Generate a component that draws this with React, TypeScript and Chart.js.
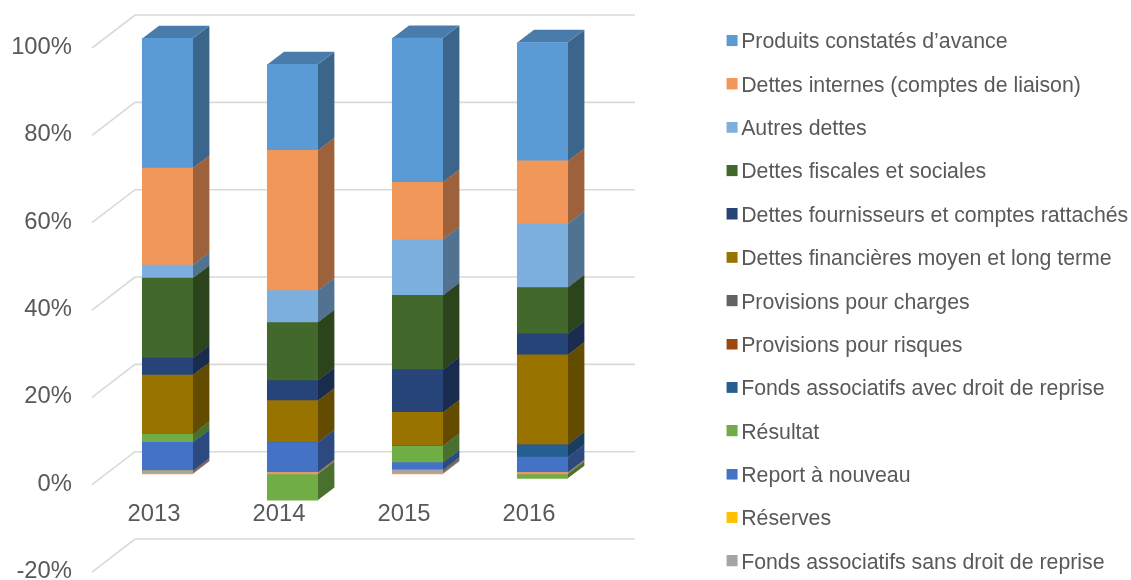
import React, { useEffect, useRef } from "react";
import { Chart, registerables } from "chart.js";

Chart.register(...registerables);

const categories = ["2013", "2014", "2015", "2016"];
const yTicks = [-20, 0, 20, 40, 60, 80, 100];

const unnamedBase = [0.15, 0.3, 0.2, 0.3];
const fondsSansDroit = [0.6, 0.1, 0.7, 0.1];
const reserves = [0, 0, 0, 0];
const reportANouveau = [6.5, 6.8, 1.7, 3.5];
const resultat = [1.9, -6, 3.8, -1];
const fondsAvecDroit = [0, 0, 0, 2.8];
const provisionsRisques = [0, 0, 0.1, 0];
const provisionsCharges = [0, 0, 0, 0];
const dettesFinancieres = [13.5, 9.6, 7.6, 20.6];
const dettesFournisseurs = [3.9, 4.6, 9.8, 4.8];
const dettesFiscales = [18.3, 13.3, 17, 10.6];
const autresDettes = [3, 7.3, 12.8, 14.6];
const dettesInternes = [22.2, 32.1, 13.1, 14.4];
const produitsConstates = [29.7, 19.7, 33, 27.1];

const seriesList: [string, number[], string][] = [
  ["", unnamedBase, "#F1975A"],
  ["Fonds associatifs sans droit de reprise", fondsSansDroit, "#A5A5A5"],
  ["Réserves", reserves, "#FFC000"],
  ["Report à nouveau", reportANouveau, "#4472C4"],
  ["Résultat", resultat, "#70AD47"],
  ["Fonds associatifs avec droit de reprise", fondsAvecDroit, "#255E91"],
  ["Provisions pour risques", provisionsRisques, "#9E480E"],
  ["Provisions pour charges", provisionsCharges, "#636363"],
  ["Dettes financières moyen et long terme", dettesFinancieres, "#997300"],
  ["Dettes fournisseurs et comptes rattachés", dettesFournisseurs, "#264478"],
  ["Dettes fiscales et sociales", dettesFiscales, "#43682B"],
  ["Autres dettes", autresDettes, "#7CAFDD"],
  ["Dettes internes (comptes de liaison)", dettesInternes, "#F1975A"],
  ["Produits constatés d’avance", produitsConstates, "#5B9BD5"],
];

const WIDTH = 1131;
const HEIGHT = 580;
const PX_PER_UNIT = 4.367;
const AXIS_ZERO = 484;
const BAR_ZERO = 474;
const PLOT_LEFT = 105;
const PLOT_RIGHT = 605;
const LEGEND_FONT = 21.3;
const LEGEND_PADDING = 43.35 - LEGEND_FONT;
const LEGEND_LEFT = 730.5 - LEGEND_PADDING;
const LEGEND_TOP = 9.85;
const TICK_FONT = 23.8;
const FONT_FAMILY = "'Liberation Sans', Arial, sans-serif";

function shade(hex: string, k: number) {
  const n = parseInt(hex.slice(1), 16);
  const c = (s: number) => Math.round(((n >> s) & 255) * k);
  return `rgb(${c(16)},${c(8)},${c(0)})`;
}

function swatch(color: string) {
  const c = document.createElement("canvas");
  c.width = 16;
  c.height = 15;
  const g = c.getContext("2d")!;
  g.fillStyle = color;
  g.fillRect(4, 0, 11, 11);
  return c;
}

const noPadding = (s: any) => {
  s.paddingTop = 0;
  s.paddingBottom = 0;
  s.paddingLeft = 0;
  s.paddingRight = 0;
};

const depthPlugin = {
  id: "depth",
  beforeLayout(chart: any) {
    const legend = chart.legend;
    if (legend && !legend.__wrapped) {
      legend.__wrapped = true;
      const fit = legend.fit;
      legend.fit = function () {
        this.maxHeight = 800;
        fit.call(this);
        this.width = WIDTH - PLOT_RIGHT;
        this.height = HEIGHT;
      };
    }
  },
  afterLayout(chart: any) {
    const legend = chart.legend;
    legend.left = LEGEND_LEFT;
    legend.top = LEGEND_TOP;
    legend.bottom = 800;
  },
  beforeDatasetsDraw(chart: any) {
    const { ctx, scales } = chart;
    const y = scales.y;
    const x = scales.x;
    ctx.save();
    ctx.strokeStyle = "#D9D9D9";
    ctx.lineWidth = 1.6;
    yTicks.forEach((t) => {
      const py = y.getPixelForValue(t);
      const wy = py - 32.3;
      ctx.beginPath();
      ctx.moveTo(x.left - 13, wy + 33);
      ctx.lineTo(x.left + 30, wy);
      ctx.lineTo(x.right + 30, wy);
      ctx.stroke();
    });
    const dx = 16.7;
    const dy = 12.7;
    const drawPass = (negative: boolean) => {
      chart.data.datasets.forEach((ds: any, di: number) => {
        const meta = chart.getDatasetMeta(di);
        meta.data.forEach((bar: any, i: number) => {
          const v = ds.data[i];
          if (!v || v < 0 !== negative) return;
          const right = bar.x + bar.width / 2;
          const left = bar.x - bar.width / 2;
          const top = Math.min(bar.y, bar.base);
          const bottom = Math.max(bar.y, bar.base);
          ctx.fillStyle = shade(ds.backgroundColor, 0.65);
          ctx.beginPath();
          ctx.moveTo(right, top);
          ctx.lineTo(right + dx, top - dy);
          ctx.lineTo(right + dx, bottom - dy);
          ctx.lineTo(right, bottom);
          ctx.closePath();
          ctx.fill();
          if (!negative) {
            ctx.fillStyle = shade(ds.backgroundColor, 0.8);
            ctx.beginPath();
            ctx.moveTo(left, top);
            ctx.lineTo(left + dx, top - dy);
            ctx.lineTo(right + dx, top - dy);
            ctx.lineTo(right, top);
            ctx.closePath();
            ctx.fill();
          }
        });
      });
    };
    drawPass(true);
    drawPass(false);
    ctx.restore();
  },
};

export default function App() {
  const ref = useRef<HTMLCanvasElement>(null);
  useEffect(() => {
    const base = Chart.defaults.plugins.legend.labels.generateLabels;
    const chart = new Chart(ref.current!, {
      type: "bar",
      data: {
        labels: categories,
        datasets: seriesList.map(([label, data, color]) => ({
          label,
          data,
          backgroundColor: color,
          borderWidth: 0,
          barThickness: 50.4,
          yAxisID: "y2",
        })),
      },
      plugins: [depthPlugin],
      options: {
        responsive: false,
        animation: false,
        events: [],
        layout: { padding: 0 },
        plugins: {
          tooltip: { enabled: false },
          title: { display: false },
          legend: {
            position: "right",
            align: "start",
            reverse: true,
            labels: {
              usePointStyle: true,
              pointStyleWidth: 0.01,
              padding: LEGEND_PADDING,
              color: "#595959",
              font: { family: FONT_FAMILY, size: LEGEND_FONT },
              filter: (item: any) => item.text !== "",
              generateLabels: (c: any) =>
                base(c).map((l: any) => ({ ...l, pointStyle: swatch(l.fillStyle) })),
            },
          },
        },
        scales: {
          x: {
            stacked: true,
            position: { y: 0 },
            border: { display: false },
            grid: { display: false },
            afterFit: (s: any) => {
              s.height = 0;
              noPadding(s);
            },
            ticks: {
              color: "#595959",
              font: { family: FONT_FAMILY, size: TICK_FONT },
              padding: 8,
              labelOffset: -13.5,
              maxRotation: 0,
            },
          },
          y: {
            min: (AXIS_ZERO - HEIGHT) / PX_PER_UNIT,
            max: AXIS_ZERO / PX_PER_UNIT,
            border: { display: false },
            grid: { display: false },
            afterBuildTicks: (s: any) => {
              s.ticks = yTicks.map((value) => ({ value }));
            },
            afterFit: (s: any) => {
              s.width = PLOT_LEFT;
              noPadding(s);
            },
            ticks: {
              color: "#595959",
              font: { family: FONT_FAMILY, size: TICK_FONT },
              padding: 25,
              callback: (v: any) => `${v}%`,
            },
          },
          y2: {
            display: false,
            stacked: true,
            min: (BAR_ZERO - HEIGHT) / PX_PER_UNIT,
            max: BAR_ZERO / PX_PER_UNIT,
          },
        },
      } as any,
    });
    return () => chart.destroy();
  }, []);
  return (
    <div style={{ position: "fixed", left: 0, top: 0, width: WIDTH, height: HEIGHT, background: "#fff" }}>
      <canvas ref={ref} width={WIDTH} height={HEIGHT} style={{ display: "block" }} />
    </div>
  );
}
